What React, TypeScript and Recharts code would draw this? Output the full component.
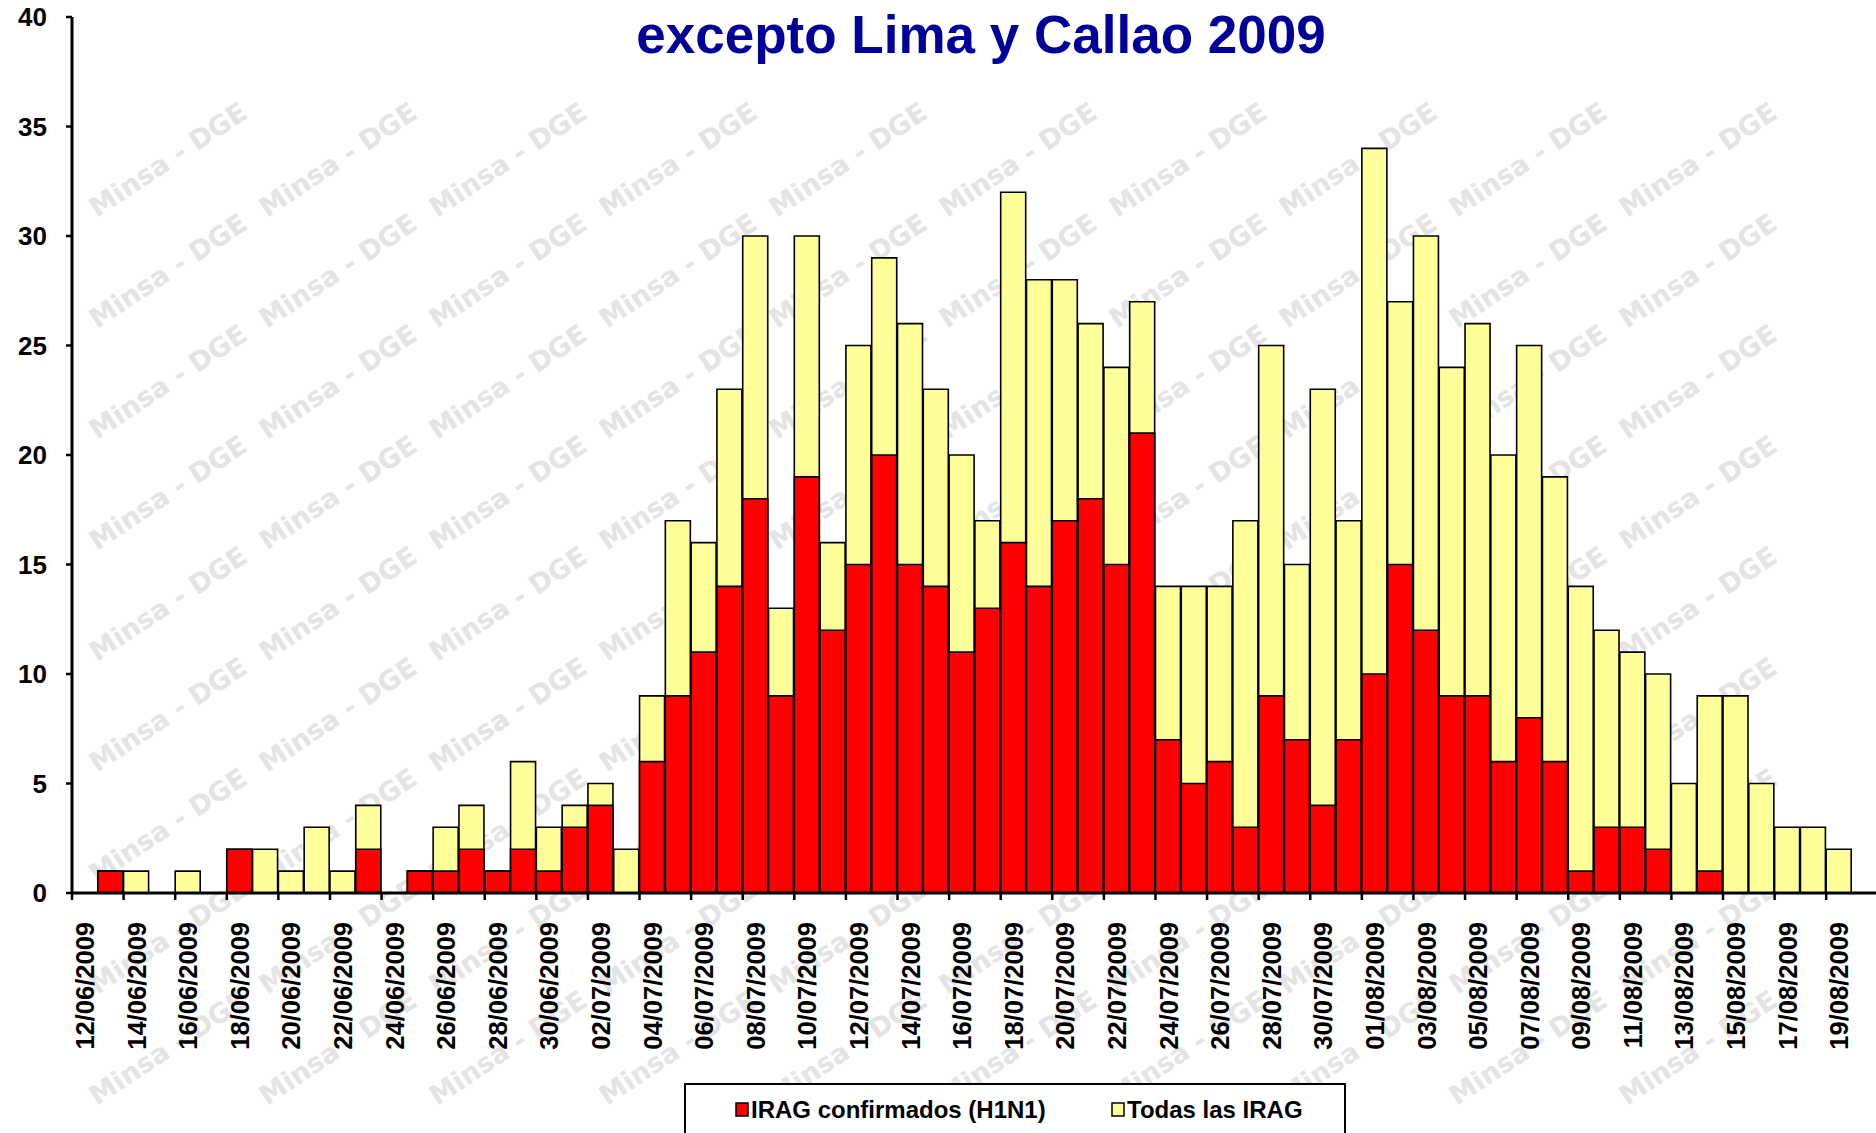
import React from 'react';
import { BarChart, Bar, XAxis, YAxis, Legend, Customized } from 'recharts';

const categories = [
  '12/06/2009', '13/06/2009', '14/06/2009', '15/06/2009', '16/06/2009', '17/06/2009',
  '18/06/2009', '19/06/2009', '20/06/2009', '21/06/2009', '22/06/2009', '23/06/2009',
  '24/06/2009', '25/06/2009', '26/06/2009', '27/06/2009', '28/06/2009', '29/06/2009',
  '30/06/2009', '01/07/2009', '02/07/2009', '03/07/2009', '04/07/2009', '05/07/2009',
  '06/07/2009', '07/07/2009', '08/07/2009', '09/07/2009', '10/07/2009', '11/07/2009',
  '12/07/2009', '13/07/2009', '14/07/2009', '15/07/2009', '16/07/2009', '17/07/2009',
  '18/07/2009', '19/07/2009', '20/07/2009', '21/07/2009', '22/07/2009', '23/07/2009',
  '24/07/2009', '25/07/2009', '26/07/2009', '27/07/2009', '28/07/2009', '29/07/2009',
  '30/07/2009', '31/07/2009', '01/08/2009', '02/08/2009', '03/08/2009', '04/08/2009',
  '05/08/2009', '06/08/2009', '07/08/2009', '08/08/2009', '09/08/2009', '10/08/2009',
  '11/08/2009', '12/08/2009', '13/08/2009', '14/08/2009', '15/08/2009', '16/08/2009',
  '17/08/2009', '18/08/2009', '19/08/2009',
];

// Todas las IRAG (total height of the yellow bar)
const todasIRAG = [
  0, 1, 1, 0, 1, 0,
  2, 2, 1, 3, 1, 4,
  0, 1, 3, 4, 1, 6,
  3, 4, 5, 2, 9, 17,
  16, 23, 30, 13, 30, 16,
  25, 29, 26, 23, 20, 17,
  32, 28, 28, 26, 24, 27,
  14, 14, 14, 17, 25, 15,
  23, 17, 34, 27, 30, 24,
  26, 20, 25, 19, 14, 12,
  11, 10, 5, 9, 9, 5,
  3, 3, 2,
];

// IRAG confirmados (H1N1) (red bar, drawn over the yellow one)
const confirmadosH1N1 = [
  0, 1, 0, 0, 0, 0,
  2, 0, 0, 0, 0, 2,
  0, 1, 1, 2, 1, 2,
  1, 3, 4, 0, 6, 9,
  11, 14, 18, 9, 19, 12,
  15, 20, 15, 14, 11, 13,
  16, 14, 17, 18, 15, 21,
  7, 5, 6, 3, 9, 7,
  4, 7, 10, 15, 12, 9,
  9, 6, 8, 6, 1, 3,
  3, 2, 0, 1, 0, 0,
  0, 0, 0,
];

const yTicks = [0, 5, 10, 15, 20, 25, 30, 35, 40];
const chartTitle = 'excepto Lima y Callao 2009';
const nameConfirmed = 'IRAG confirmados (H1N1)';
const nameTotal = 'Todas las IRAG';
const watermarkText = 'Minsa - DGE';

const data = categories.map((fecha, i) => ({
  fecha,
  total: todasIRAG[i],
  confirmados: confirmadosH1N1[i],
}));

const W = 1876;
const H = 1133;
const PLOT_LEFT = 72;
const PLOT_TOP = 17;
const PLOT_BOTTOM = 893;
const PAD_RIGHT = 24;
const BAND = (W - PLOT_LEFT - PAD_RIGHT) / categories.length;
const FONT = "'Liberation Sans', Arial, Helvetica, sans-serif";
const RED = '#FF0000';
const YELLOW = '#FFFF99';
const TITLE_BLUE = '#000099';

const XTick = (props: any) => {
  const { x, y, payload } = props;
  const idx = categories.indexOf(payload.value);
  if (idx < 0 || idx % 2 !== 0) return <g />;
  const left = x - BAND / 2;
  const ty = y + 29;
  return (
    <g>
      <line x1={left} x2={left} y1={y} y2={y + 7} stroke="#000" strokeWidth={2.5} />
      <text
        x={x}
        y={ty}
        dy="0.36em"
        textAnchor="end"
        transform={`rotate(-90, ${x}, ${ty})`}
        fontSize={25.5}
        fontWeight="bold"
        fontFamily={FONT}
        fill="#000"
      >
        {payload.value}
      </text>
    </g>
  );
};

const Title = () => (
  <text
    x={981}
    y={53}
    textAnchor="middle"
    fontSize={53}
    fontWeight="bold"
    fontFamily={FONT}
    fill={TITLE_BLUE}
  >
    {chartTitle}
  </text>
);

const LEGEND_W = 662;
const LegendBox = () => (
  <svg width={LEGEND_W} height={70} style={{ display: 'block' }}>
    <rect x={1} y={1} width={LEGEND_W - 2} height={90} fill="#fff" stroke="#000" strokeWidth={2} />
    <rect x={52} y={20} width={12} height={13} fill={RED} stroke="#000" strokeWidth={1.5} />
    <text x={67} y={35} fontSize={24} fontWeight="bold" fontFamily={FONT} fill="#000">
      {nameConfirmed}
    </text>
    <rect x={428} y={20} width={12} height={13} fill={YELLOW} stroke="#000" strokeWidth={1.5} />
    <text x={443} y={35} fontSize={24} fontWeight="bold" fontFamily={FONT} fill="#000">
      {nameTotal}
    </text>
  </svg>
);

const Watermark = () => {
  const items: React.ReactNode[] = [];
  for (let k = 0; k <= 9; k++) {
    for (let j = 1; j <= 9; j++) {
      const x0 = 97 + 170 * k;
      const y0 = 107 + 111 * j;
      items.push(
        <text
          key={`${k}-${j}`}
          x={x0}
          y={y0}
          transform={`rotate(-33.6, ${x0}, ${y0})`}
          fontSize={27}
          fontWeight="bold"
          fontFamily="'DejaVu Sans', Verdana, sans-serif"
          fill="#e4e4e4"
        >
          {watermarkText}
        </text>
      );
    }
  }
  return (
    <svg width={W} height={H} style={{ position: 'absolute', left: 0, top: 0 }}>
      {items}
    </svg>
  );
};

export default function App() {
  return (
    <div
      style={{
        position: 'absolute',
        left: 0,
        top: 0,
        width: W,
        height: H,
        overflow: 'hidden',
        background: '#fff',
      }}
    >
      <Watermark />
      <div style={{ position: 'absolute', left: 0, top: 0 }}>
        <BarChart
          width={W}
          height={H}
          data={data}
          margin={{ top: PLOT_TOP, right: 0, bottom: 0, left: 0 }}
          barCategoryGap={0}
          barGap={-25}
        >
          <XAxis
            dataKey="fecha"
            height={H - PLOT_BOTTOM}
            padding={{ left: 0, right: PAD_RIGHT }}
            interval={0}
            tickSize={0}
            tickMargin={0}
            tickLine={false}
            axisLine={{ stroke: '#000', strokeWidth: 3 }}
            tick={<XTick />}
          />
          <YAxis
            width={PLOT_LEFT}
            domain={[0, 40]}
            ticks={yTicks}
            interval={0}
            allowDecimals={false}
            tickSize={6}
            tickMargin={19}
            axisLine={{ stroke: '#000', strokeWidth: 3 }}
            tickLine={{ stroke: '#000', strokeWidth: 2.5 }}
            tick={{ fill: '#000', fontSize: 26, fontWeight: 'bold', fontFamily: FONT }}
          />
          <Bar
            dataKey="total"
            name={nameTotal}
            fill={YELLOW}
            stroke="#000"
            strokeWidth={1.6}
            isAnimationActive={false}
          />
          <Bar
            dataKey="confirmados"
            name={nameConfirmed}
            fill={RED}
            stroke="#000"
            strokeWidth={1.6}
            isAnimationActive={false}
          />
          <Customized component={Title} />
          <Legend
            layout="horizontal"
            verticalAlign="middle"
            align="center"
            content={() => <LegendBox />}
            wrapperStyle={{ position: 'absolute', left: 684, top: 1083, width: LEGEND_W, height: 70 }}
          />
        </BarChart>
      </div>
    </div>
  );
}
